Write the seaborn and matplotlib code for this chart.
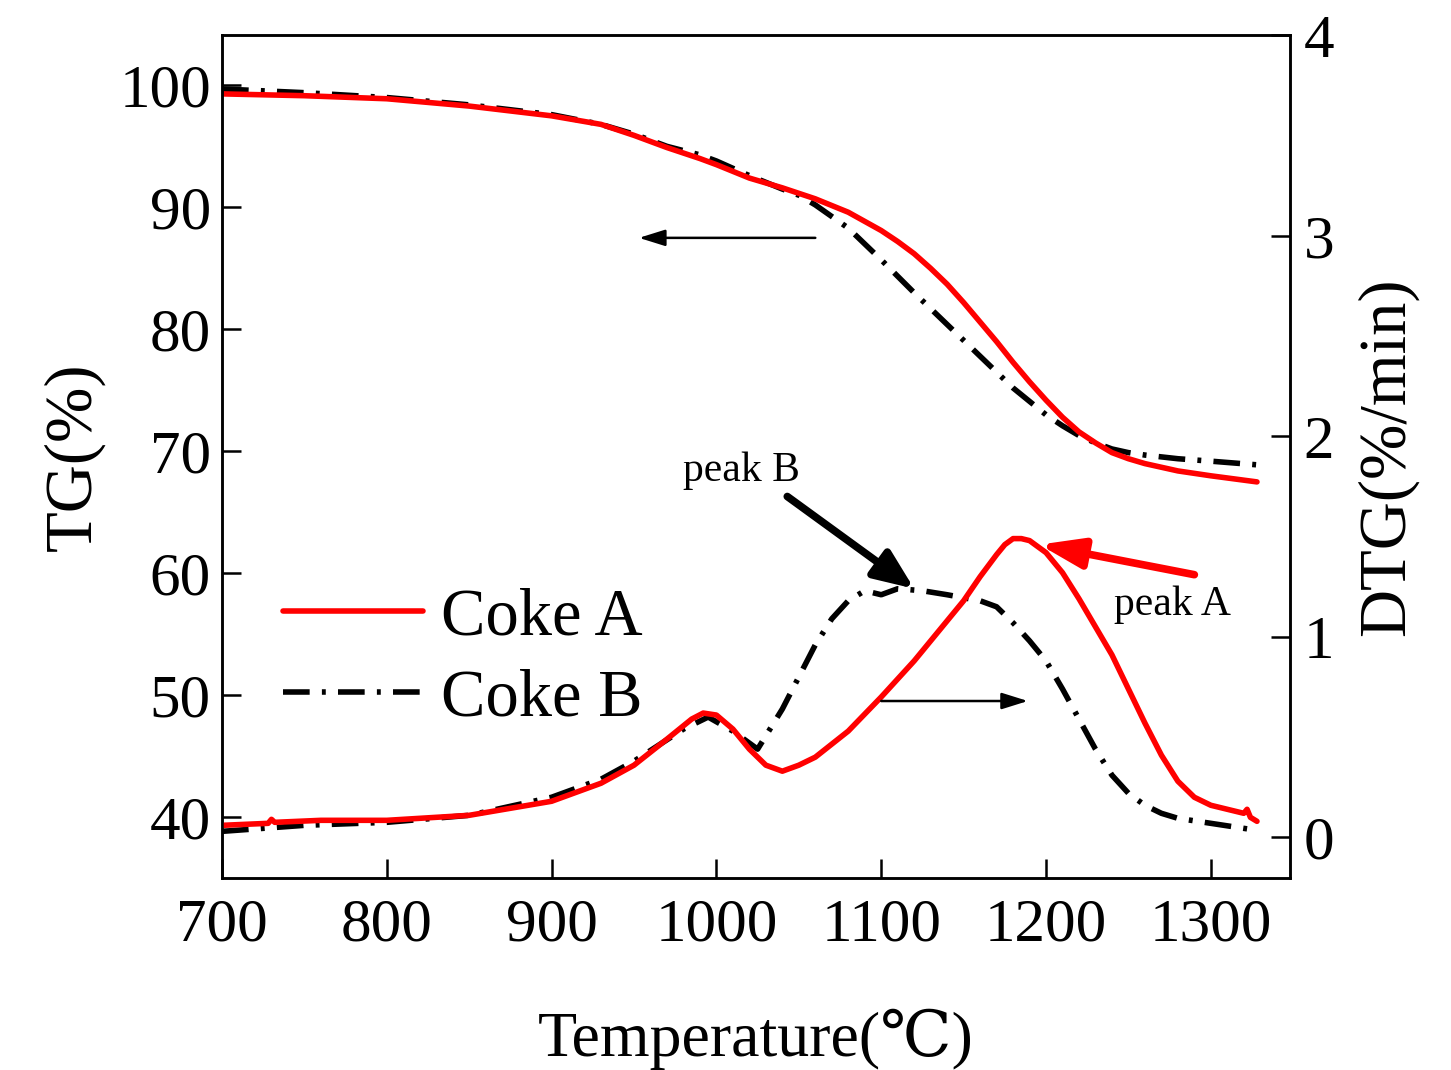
import matplotlib
matplotlib.use("Agg")
import matplotlib.pyplot as plt
import seaborn as sns
import pandas as pd

# ---------------- data ----------------
tg_a_T = [700, 750, 800, 850, 900, 930, 950, 970, 990, 1000, 1020, 1040, 1060, 1080, 1100,
          1110, 1120, 1130, 1140, 1150, 1160, 1170, 1180, 1190, 1200, 1210, 1220, 1230, 1240,
          1250, 1260, 1280, 1300, 1328]
tg_a = [99.3, 99.15, 98.9, 98.3, 97.5, 96.8, 95.9, 94.9, 94.0, 93.5, 92.4, 91.6, 90.7, 89.6, 88.1,
        87.2, 86.2, 85.0, 83.7, 82.2, 80.6, 79.0, 77.3, 75.7, 74.2, 72.8, 71.6, 70.7, 69.9,
        69.4, 69.0, 68.4, 68.0, 67.5]

tg_b_T = [700, 750, 800, 850, 900, 930, 950, 970, 990, 1000, 1020, 1040, 1050, 1060, 1080, 1100,
          1120, 1140, 1160, 1180, 1200, 1210, 1220, 1230, 1240, 1250, 1260, 1280, 1300, 1328]
tg_b = [99.7, 99.4, 99.0, 98.4, 97.6, 96.8, 96.0, 95.0, 94.3, 93.8, 92.6, 91.5, 91.0, 90.2, 88.3, 85.7,
        83.0, 80.4, 77.8, 75.2, 73.0, 72.1, 71.3, 70.7, 70.2, 69.9, 69.7, 69.4, 69.2, 68.9]

dtg_a_T = [700, 728, 730, 732, 760, 800, 850, 900, 930, 950, 970, 985, 992, 1000, 1010, 1020, 1030,
           1040, 1050, 1060, 1080, 1100, 1120, 1140, 1150, 1160, 1170, 1175, 1180, 1185, 1190,
           1200, 1210, 1220, 1230, 1240, 1250, 1260, 1270, 1280, 1290, 1300, 1310, 1320, 1322,
           1324, 1328]
dtg_a = [0.06, 0.07, 0.09, 0.075, 0.085, 0.085, 0.11, 0.18, 0.27, 0.36, 0.49, 0.59, 0.62, 0.61, 0.54,
         0.44, 0.36, 0.33, 0.36, 0.40, 0.53, 0.70, 0.88, 1.08, 1.18, 1.30, 1.41, 1.46, 1.49, 1.49,
         1.48, 1.42, 1.32, 1.19, 1.05, 0.91, 0.74, 0.57, 0.41, 0.28, 0.20, 0.16, 0.14, 0.12, 0.14,
         0.10, 0.08]

dtg_b_T = [700, 750, 800, 850, 900, 930, 950, 980, 995, 1010, 1025, 1040, 1060, 1070, 1080, 1090,
           1100, 1110, 1125, 1140, 1160, 1170, 1180, 1190, 1200, 1210, 1220, 1230, 1240, 1250,
           1260, 1270, 1280, 1300, 1328]
dtg_b = [0.03, 0.06, 0.075, 0.11, 0.20, 0.29, 0.38, 0.54, 0.60, 0.53, 0.44, 0.64, 0.96, 1.09, 1.18,
         1.23, 1.21, 1.24, 1.23, 1.21, 1.18, 1.15, 1.07, 0.98, 0.88, 0.74, 0.59, 0.44, 0.31, 0.22,
         0.16, 0.12, 0.095, 0.07, 0.035]

series_names = ["Coke A", "Coke B"]
x_ticks = [700, 800, 900, 1000, 1100, 1200, 1300]
tg_ticks = [40, 50, 60, 70, 80, 90, 100]
dtg_ticks = [0, 1, 2, 3, 4]

# ---------------- style ----------------
sns.set_style("ticks")
plt.rcParams["font.family"] = ["Liberation Serif", "DejaVu Serif", "Noto Sans CJK SC"]
for k in ["text.color", "axes.labelcolor", "xtick.color", "ytick.color", "axes.edgecolor"]:
    plt.rcParams[k] = "black"
plt.rcParams["axes.linewidth"] = 1.8

fig = plt.figure(figsize=(14.51, 10.70), dpi=100)
ax = fig.add_axes([0.153, 0.179, 0.736, 0.788])
ax2 = ax.twinx()

red = "#ff0000"
lw = 4.0
dashdot = (0, (4.8, 2.2, 0.7, 2.2))

df_tg_a = pd.DataFrame({"T": tg_a_T, "v": tg_a})
df_tg_b = pd.DataFrame({"T": tg_b_T, "v": tg_b})
df_dtg_a = pd.DataFrame({"T": dtg_a_T, "v": dtg_a})
df_dtg_b = pd.DataFrame({"T": dtg_b_T, "v": dtg_b})

sns.lineplot(data=df_tg_b, x="T", y="v", ax=ax, color="black", lw=lw, linestyle=dashdot,
             label=series_names[1], sort=False)
sns.lineplot(data=df_tg_a, x="T", y="v", ax=ax, color=red, lw=lw, label=series_names[0], sort=False)
sns.lineplot(data=df_dtg_b, x="T", y="v", ax=ax2, color="black", lw=lw, linestyle=dashdot,
             legend=False, sort=False)
sns.lineplot(data=df_dtg_a, x="T", y="v", ax=ax2, color=red, lw=lw, legend=False, sort=False)

ax.set_xlim(700, 1348)
ax.set_ylim(35, 104.1)
ax2.set_ylim(-0.205, 4.0)
ax.set_xticks(x_ticks)
ax.set_yticks(tg_ticks)
ax2.set_yticks(dtg_ticks)

ax.tick_params(axis="both", direction="in", length=14, width=1.8, labelsize=44, pad=8,
               colors="black")
ax.tick_params(axis="x", pad=14)
ax2.tick_params(axis="y", direction="in", length=14, width=1.8, labelsize=44, pad=10,
                colors="black")
for a in (ax, ax2):
    for s in a.spines.values():
        s.set_visible(True)
        s.set_linewidth(1.8)
        s.set_color("black")

ax.set_xlabel("Temperature(℃)", fontsize=46, labelpad=40)
ax.set_ylabel("TG(%)", fontsize=48, labelpad=10)
ax2.set_ylabel("DTG(%/min)", fontsize=48, labelpad=16)

handles, labels = ax.get_legend_handles_labels()
order = [labels.index(n) for n in series_names]
ax.legend([handles[i] for i in order], [labels[i] for i in order],
          loc="upper left", bbox_to_anchor=(0.057, 0.345), frameon=False, fontsize=48,
          handlelength=2.1, handletextpad=0.27, labelspacing=0.3, borderpad=0, borderaxespad=0)

# ---------------- annotations ----------------
thin = dict(arrowstyle="-|>,head_length=0.8,head_width=0.25", color="black", lw=1.8,
            mutation_scale=20, shrinkA=0, shrinkB=0)
ax.annotate("", xy=(953, 87.5), xytext=(1060, 87.5), arrowprops=thin)
ax2.annotate("", xy=(1189, 0.68), xytext=(1100, 0.68), arrowprops=thin)
ax2.annotate("", xy=(1120, 1.24), xytext=(1043, 1.70),
             arrowprops=dict(arrowstyle="-|>,head_length=1.2,head_width=0.5", color="black",
                             lw=5.5, mutation_scale=20, shrinkA=0, shrinkB=0))
ax2.text(1015, 1.83, "peak B", ha="center", va="center", fontsize=30)
ax2.annotate("", xy=(1196, 1.46), xytext=(1290, 1.31),
             arrowprops=dict(arrowstyle="-|>,head_length=1.3,head_width=0.45", color=red,
                             lw=5.5, mutation_scale=20, shrinkA=0, shrinkB=0))
ax2.text(1277, 1.16, "peak A", ha="center", va="center", fontsize=30)

fig.savefig("out.png", dpi=100)
